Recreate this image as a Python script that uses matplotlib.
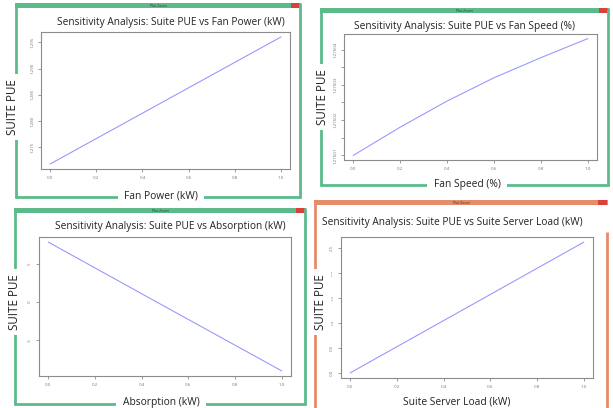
import matplotlib
matplotlib.use("Agg")
import matplotlib.pyplot as plt
from matplotlib.patches import Rectangle

W, H = 613, 408

# ---- data ----
x_vals = [0.0, 0.5, 1.0]
fan_power_pue = [1.2718, 1.2839, 1.2960]

fan_speed_x = [0.0, 0.2, 0.4, 0.6, 0.8, 1.0]
fan_speed_pue = [1.276010, 1.2760180, 1.2760254, 1.2760320, 1.2760377, 1.2760431]

absorption_pue = [7.83, -0.6, -9.0]
server_load_pue = [0.0, 1.31, 2.62]

x_ticks = [0.0, 0.2, 0.4, 0.6, 0.8, 1.0]
fan_power_ticks = [1.275, 1.280, 1.285, 1.290, 1.295]
fan_speed_ticks = [1.276010, 1.276015, 1.276020, 1.276025, 1.276030, 1.276035, 1.276040]
fan_speed_labels = ["1.27601", "", "1.27602", "", "1.27603", "", "1.27604"]
absorption_ticks = [5, 0, -5]
server_ticks = [0.0, 0.5, 1.0, 1.5, 2.0, 2.5]

titles = ["Sensitivity Analysis: Suite PUE vs Fan Power (kW)",
          "Sensitivity Analysis: Suite PUE vs Fan Speed (%)",
          "Sensitivity Analysis: Suite PUE vs Absorption (kW)",
          "Sensitivity Analysis: Suite PUE vs Suite Server Load (kW)"]
xlabels = ["Fan Power (kW)", "Fan Speed (%)", "Absorption (kW)", "Suite Server Load (kW)"]
ylabel = "SUITE PUE"

GREEN = "#5dbb8b"
ORANGE = "#e58c68"
LINE = "#9999ff"
FONT = "Open Sans"

fig = plt.figure(figsize=(W / 100, H / 100), dpi=100)
fig.patch.set_facecolor("white")

bg = fig.add_axes([0, 0, 1, 1], zorder=0)
bg.set_xlim(0, W)
bg.set_ylim(H, 0)
bg.axis("off")

ov = fig.add_axes([0, 0, 1, 1], zorder=5)
ov.set_xlim(0, W)
ov.set_ylim(H, 0)
ov.axis("off")
ov.patch.set_alpha(0)


def frame(x0, y0, x1, y1, color, right_from=None):
    # title bar
    bg.add_patch(Rectangle((x0, y0), x1 - x0, 5, facecolor=color, edgecolor="none"))
    bg.add_patch(Rectangle((x1 - 10, y0), 9, 5, facecolor="#d9413a", edgecolor="none"))
    bg.text((x0 + x1) / 2, y0 + 2.6, "Plot Zoom", fontsize=2.5, color="#333333",
            ha="center", va="center", family=FONT)
    bg.plot([x0 + 1, x0 + 1], [y0, y1], color=color, lw=2.0, solid_capstyle="butt")
    ry = y0 if right_from is None else right_from
    bg.plot([x1 - 1, x1 - 1], [ry, y1], color=color, lw=2.0, solid_capstyle="butt")
    if y1 < H:
        bg.plot([x0, x1], [y1 - 1, y1 - 1], color=color, lw=2.0, solid_capstyle="butt")


frame(15, 3, 301, 198, GREEN)
frame(320, 8, 609, 186, GREEN)
frame(14, 208, 306, 405, GREEN)
frame(314, 200, 608, 410, ORANGE, right_from=232)


def make_axes(x0, y0, x1, y1):
    ax = fig.add_axes([x0 / W, 1 - y1 / H, (x1 - x0) / W, (y1 - y0) / H], zorder=2)
    for s in ax.spines.values():
        s.set_color("#8c8c8c")
        s.set_linewidth(0.8)
    ax.tick_params(colors="#8c8c8c", labelcolor="#777777", labelsize=3.2,
                   length=2, width=0.6, pad=3)
    ax.set_xlim(-0.04, 1.04)
    ax.set_xticks(x_ticks)
    ax.set_xticklabels([f"{t:.1f}" for t in x_ticks], family=FONT)
    return ax


def pad_range(vals):
    lo, hi = min(vals), max(vals)
    d = (hi - lo) * 0.04
    return lo - d, hi + d


panels = [
    dict(box=(41, 32, 290, 169), x=x_vals, y=fan_power_pue, ticks=fan_power_ticks,
         labels=[f"{t:.3f}" for t in fan_power_ticks]),
    dict(box=(344, 34, 597, 160), x=fan_speed_x, y=fan_speed_pue, ticks=fan_speed_ticks,
         labels=fan_speed_labels),
    dict(box=(39, 237, 291, 376), x=x_vals, y=absorption_pue, ticks=absorption_ticks,
         labels=[str(t) for t in absorption_ticks]),
    dict(box=(341, 237, 593, 378), x=x_vals, y=server_load_pue, ticks=server_ticks,
         labels=[f"{t:.1f}" for t in server_ticks]),
]

for p in panels:
    ax = make_axes(*p["box"])
    ax.plot(p["x"], p["y"], color=LINE, lw=0.8)
    ax.set_ylim(*pad_range(p["y"]))
    ax.set_yticks(p["ticks"])
    ax.set_yticklabels(p["labels"], rotation=90, va="center", family=FONT)

# titles
title_pos = [(171, 22), (465, 27), (170, 226), (452, 222)]
for (tx, ty), t in zip(title_pos, titles):
    ov.text(tx, ty, t, fontsize=7.3, ha="center", va="center", family=FONT, color="#222222")

# axis labels with white boxes breaking the frames
ylab_pos = [(13, 107), (322, 97), (15, 302), (320, 302)]
for (lx, ly) in ylab_pos:
    ov.text(lx, ly, ylabel, fontsize=8.4, rotation=90, ha="center", va="center",
            family=FONT, color="#222222",
            bbox=dict(facecolor="white", edgecolor="none", pad=3.5))

xlab_pos = [(161, 196), (467, 185), (161, 402), (457, 402)]
for (lx, ly), t in zip(xlab_pos, xlabels):
    ov.text(lx, ly, t, fontsize=7.4, ha="center", va="center", family=FONT,
            color="#222222", bbox=dict(facecolor="white", edgecolor="none", pad=4.5))

fig.savefig("out.png", dpi=100, facecolor="white")
